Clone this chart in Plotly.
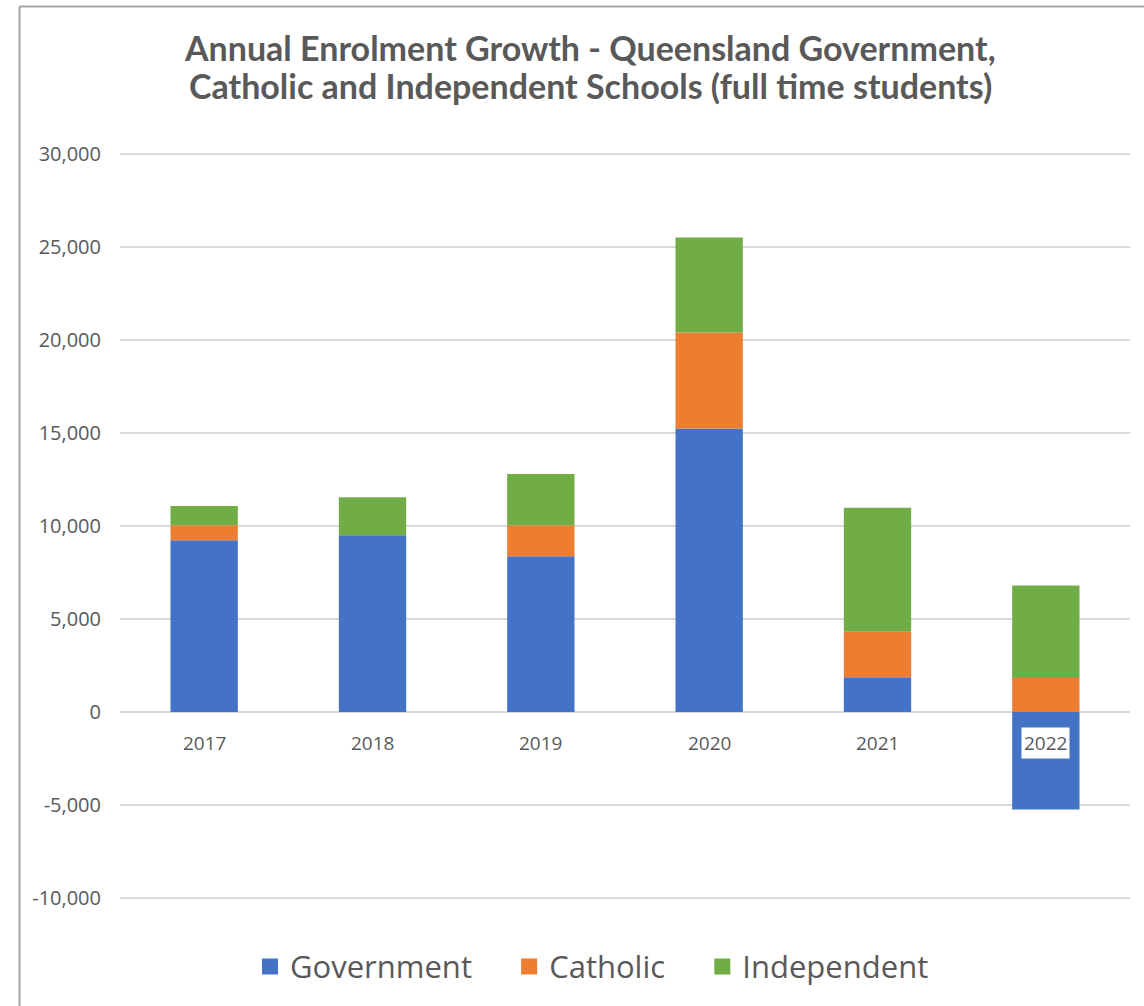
import plotly.graph_objects as go

# Annual change in full-time enrolments by school sector
years = ["2017", "2018", "2019", "2020", "2021", "2022"]
government = [9240, 9500, 8370, 15250, 1870, -5250]
catholic = [800, 0, 1670, 5160, 2440, 1820]
independent = [1030, 2050, 2760, 5110, 6670, 4980]

y_ticks = [-10000, -5000, 0, 5000, 10000, 15000, 20000, 25000, 30000]
y_tick_text = ["-10,000", "-5,000", "0", "5,000", "10,000", "15,000",
               "20,000", "25,000", "30,000"]

series = [
    ("Government", government, "#4472C4"),
    ("Catholic", catholic, "#ED7D31"),
    ("Independent", independent, "#70AD47"),
]

TEXT = "#595959"
GRID = "#D9D9D9"
PAD = "\u00a0" * 4  # spacing after a legend entry

fig = go.Figure()
for name, vals, color in series:
    fig.add_trace(go.Bar(x=years, y=vals, name=name, marker_color=color,
                         marker_line_width=0, showlegend=False))
# larger square swatches for the legend
for i, (name, vals, color) in enumerate(series):
    label = name + (PAD if i < len(series) - 1 else "")
    fig.add_trace(go.Scatter(x=[years[0]], y=[None], mode="markers",
                             name=label, hoverinfo="skip",
                             marker=dict(symbol="square", size=18, color=color)))

# category labels sit just under the zero line, boxed in white
# (category axes take the position index for annotations)
for i, yr in enumerate(years):
    fig.add_annotation(x=i, y=0, text=yr, showarrow=False, yanchor="top",
                       yshift=-15, bgcolor="white", borderpad=2,
                       font=dict(family="Open Sans", size=19, color=TEXT))

L, R, T, B = 120, 14, 153, 104
W, H = 1144, 1006
pw, ph = W - L - R, H - T - B


def px_x(px):
    return (px - L) / pw


def px_y(py):
    return (H - B - py) / ph


# two-line chart heading
for line, yc in [("Annual Enrolment Growth - Queensland Government,", 47),
                 ("Catholic and Independent Schools (full time students)", 85)]:
    fig.add_annotation(xref="paper", yref="paper", x=px_x(590), y=px_y(yc),
                       xanchor="center", yanchor="middle", showarrow=False,
                       text=line,
                       font=dict(family="Lato", size=34, color=TEXT,
                                 weight="bold"))

# outer frame edges (left and top)
fig.add_shape(type="line", xref="paper", yref="paper",
              x0=px_x(19.5), x1=px_x(1160), y0=px_y(6), y1=px_y(6),
              line=dict(color="#A6A6A6", width=2))
fig.add_shape(type="line", xref="paper", yref="paper",
              x0=px_x(19.5), x1=px_x(19.5), y0=px_y(6), y1=px_y(1020),
              line=dict(color="#A6A6A6", width=2))

fig.update_layout(
    width=W, height=H,
    margin=dict(l=L, r=R, t=T, b=B),
    paper_bgcolor="white", plot_bgcolor="white",
    barmode="relative", bargap=0.6,
    xaxis=dict(type="category", categoryorder="array", categoryarray=years,
               range=[-0.5, len(years) - 0.5], autorange=False,
               showticklabels=False, showgrid=False,
               zeroline=False, showline=False),
    yaxis=dict(range=[-10060, 30060], autorange=False,
               tickvals=y_ticks, ticktext=y_tick_text,
               showgrid=True, gridcolor=GRID, gridwidth=1.5,
               zeroline=True, zerolinecolor=GRID, zerolinewidth=1.5,
               showline=False, ticks="", ticklabelstandoff=18,
               tickfont=dict(family="Open Sans", size=20, color=TEXT)),
    legend=dict(orientation="h", x=px_x(592), xanchor="center",
                y=px_y(970), yanchor="middle",
                font=dict(family="Open Sans", size=31, color=TEXT),
                tracegroupgap=0),
    showlegend=True,
)

fig.write_html("out.html")
